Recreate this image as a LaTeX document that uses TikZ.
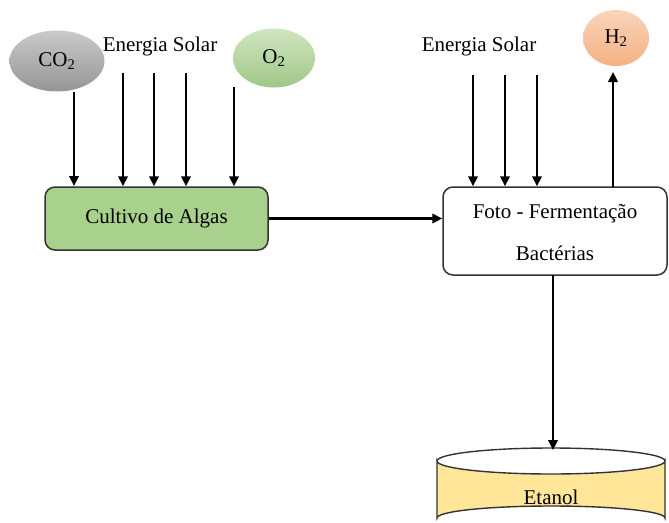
\documentclass[tikz,border=0pt]{standalone}
\usepackage{fontspec}
\setmainfont{Liberation Serif}
\usetikzlibrary{arrows.meta,shapes.geometric}
\definecolor{gasgray}{HTML}{A6A6A6}
\definecolor{gasgreen}{HTML}{A9D18E}
\definecolor{gasorange}{HTML}{F4B183}
\definecolor{algae}{HTML}{A9D18E}
\definecolor{tank}{HTML}{FFE699}
\tikzset{
  txt/.style={font=\fontsize{21}{25}\selectfont, text=black},
  gas/.style={ellipse, inner sep=0pt, txt},
  procbox/.style={draw=black!80, line width=1.5pt, rounded corners=10pt, inner sep=0pt, txt},
  flow/.style={line width=2.3pt, -{Triangle[length=10pt,width=9.5pt]}},
}
\begin{document}
\begin{tikzpicture}[x=1pt,y=-1pt]
\useasboundingbox (0,0) rectangle (669,522);
\clip (0,0) rectangle (669,522);

% gas bubbles
\node[gas, minimum width=95pt, minimum height=61pt, top color=gasgray!60, bottom color=gasgray!90!black] (co2) at (57,61) {CO\textsubscript{2}};
\node[gas, minimum width=82pt, minimum height=59pt, top color=gasgreen!55, bottom color=gasgreen!95!black] (o2) at (274,58) {O\textsubscript{2}};
\node[gas, minimum width=66pt, minimum height=56pt, top color=gasorange!55, bottom color=gasorange] (h2) at (616,38) {H\textsubscript{2}};

% solar energy labels
\node[txt, inner sep=0pt] (sol1) at (160,46) {Energia Solar};
\node[txt, inner sep=0pt] (sol2) at (479,46) {Energia Solar};

% process boxes
\node[procbox, fill=algae, minimum width=223pt, minimum height=63pt] (alg) at (156.5,218.5) {Cultivo de Algas};
\node[procbox, fill=white, minimum width=224pt, minimum height=88pt] (bac) at (555,231) {};
\node[txt, inner sep=0pt] (fer) at (555,214) {Foto - Fermentação};
\node[txt, inner sep=0pt] (bct) at (555,253) {Bactérias};

% ethanol tank
\draw[draw=black!80, line width=1.4pt, fill=tank]
  (437,461) -- (437,518) arc[start angle=180, end angle=360, x radius=114, y radius=12] -- (665,461)
  arc[start angle=0, end angle=180, x radius=114, y radius=13] -- cycle;
\draw[draw=black!80, line width=1.4pt] (437,461) arc[start angle=180, end angle=360, x radius=114, y radius=13];
\node[minimum width=228pt, minimum height=60pt, inner sep=0pt] (eta) at (551,478) {};
\node[txt, inner sep=0pt] (etl) at (551,497) {Etanol};

% inputs to the algae culture
\draw[flow] (co2.south -| 74,0) -- (74,186);
\coordinate (s1) at (123,73);
\coordinate (s2) at (154,73);
\coordinate (s3) at (186,73);
\coordinate (s4) at (234,87);
\foreach \c in {s1,s2,s3,s4}
  \draw[flow] (\c) -- (\c |- alg.north);

% algae to fermentation
\draw[flow] (alg.east) -- (alg.east -| bac.west);

% solar input to fermentation
\coordinate (t1) at (473,75);
\coordinate (t2) at (505,75);
\coordinate (t3) at (537,75);
\foreach \c in {t1,t2,t3}
  \draw[flow] (\c) -- (\c |- bac.north);

% hydrogen output
\draw[flow] (613,187) -- (613,72);

% ethanol output
\draw[flow] (553,275) -- (553,450);
\end{tikzpicture}
\end{document}
